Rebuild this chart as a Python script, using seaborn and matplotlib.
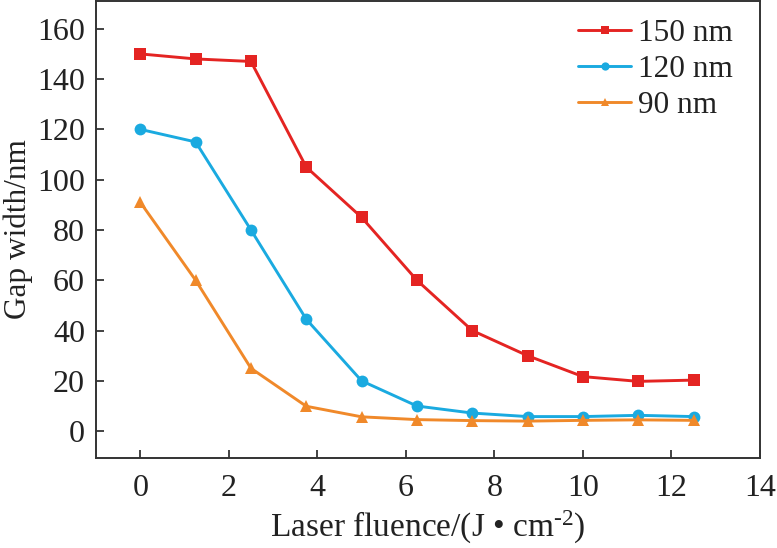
import numpy as np
import pandas as pd
import matplotlib
matplotlib.use("Agg")
import matplotlib.pyplot as plt
import seaborn as sns

fluence = [0, 1.25, 2.5, 3.75, 5, 6.25, 7.5, 8.75, 10, 11.25, 12.5]
gap_150 = [150, 148, 147, 105, 85, 60, 40, 30, 21.7, 19.8, 20.3]
gap_120 = [120, 115, 80, 44.5, 20, 10, 7.2, 5.8, 5.8, 6.3, 5.8]
gap_90 = [91, 60, 25, 9.9, 5.7, 4.6, 4.2, 4.0, 4.3, 4.5, 4.3]
series_names = ["150 nm", "120 nm", "90 nm"]

rows = []
for name, vals in zip(series_names, [gap_150, gap_120, gap_90]):
    for x, y in zip(fluence, vals):
        rows.append({"fluence": x, "gap": y, "series": name})
df = pd.DataFrame(rows)

sns.set_style("ticks")
plt.rcParams["font.family"] = ["Liberation Serif", "DejaVu Serif"]
plt.rcParams["mathtext.fontset"] = "custom"
plt.rcParams["mathtext.rm"] = "Liberation Serif"
plt.rcParams["mathtext.it"] = "Liberation Serif:italic"
plt.rcParams["mathtext.default"] = "rm"

fig = plt.figure(figsize=(7.77, 5.48), dpi=100)
ax = fig.add_axes([0.1236, 0.165, 0.8545, 0.833])

palette = {"150 nm": "#e42422", "120 nm": "#1aaae0", "90 nm": "#f0892a"}
markers = {"150 nm": "s", "120 nm": "o", "90 nm": "^"}
sns.lineplot(data=df, x="fluence", y="gap", hue="series", style="series",
             palette=palette, markers=markers, dashes=False, linewidth=2.1,
             markersize=8.5, markeredgewidth=0, ax=ax)

ax.set_xlim(-1, 14)
ax.set_ylim(-10.5, 171)
ax.set_xticks(np.arange(0, 15, 2))
ax.set_yticks(np.arange(0, 161, 20))
ax.tick_params(direction="in", length=6, width=1.2, labelsize=23, colors="#222222")
ax.tick_params(axis="x", pad=12)
ax.tick_params(axis="y", pad=8)
for s in ax.spines.values():
    s.set_linewidth(1.4)
    s.set_color("#333333")

ax.set_xlabel("Laser fluence/(J \u2022 cm$^{\u2010 2}$)", fontsize=24, color="#222222", labelpad=4)
ax.set_ylabel("Gap width/nm", fontsize=22.5, color="#222222", labelpad=3)

leg = ax.legend(loc="upper right", frameon=False, fontsize=22.5, handlelength=1.7,
                handletextpad=0.2, labelspacing=0.22, borderaxespad=0.0,
                borderpad=0.35, markerscale=0.7, bbox_to_anchor=(0.975, 0.984))
for t in leg.get_texts():
    t.set_color("#222222")

fig.savefig("out.png", dpi=100)
